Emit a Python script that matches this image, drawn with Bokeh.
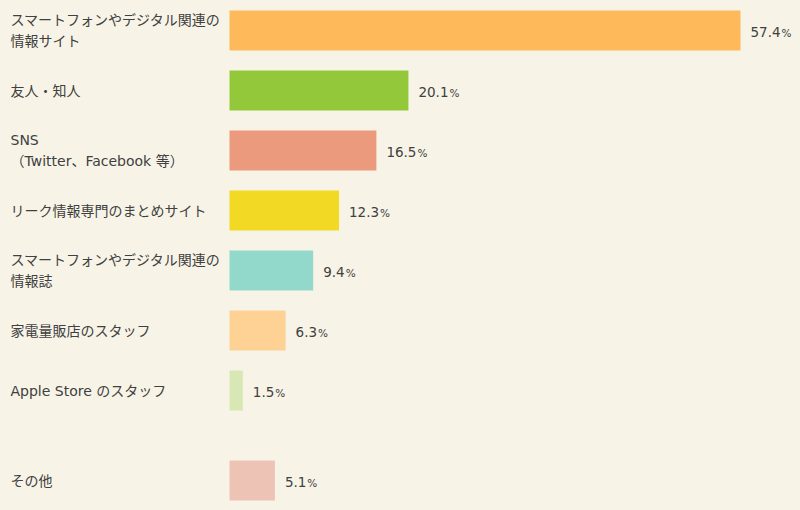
from bokeh.plotting import figure
from bokeh.models import Range1d, ColumnDataSource, LabelSet
from bokeh.core.properties import value
from bokeh.embed import file_html
from bokeh.resources import INLINE

categories = [
    "スマートフォンやデジタル関連の\n情報サイト",
    "友人・知人",
    "SNS\n（Twitter、Facebook 等）",
    "リーク情報専門のまとめサイト",
    "スマートフォンやデジタル関連の\n情報誌",
    "家電量販店のスタッフ",
    "Apple Store のスタッフ",
    "その他",
]
values = [57.4, 20.1, 16.5, 12.3, 9.4, 6.3, 1.5, 5.1]
slots = [0, 1, 2, 3, 4, 5, 6, 7.5]
colors = ["#FDB95A", "#93C83A", "#EC9A7E", "#F2DA24", "#93D9CB", "#FED194", "#D8E8B4", "#EDC3B6"]

BG = "#F7F4E7"
W, H = 800, 510
px_per_unit = 511 / 57.4
x0_px = 229
x_start = -x0_px / px_per_unit
x_end = (W - x0_px) / px_per_unit
slot_px = 60
first_center_px = 30
y_top = -first_center_px / slot_px
y_bottom = (H - first_center_px) / slot_px

num_labels = [f"{v:.1f}" for v in values]
NUM_SIZE = 13.5


def text_width(s, size=NUM_SIZE):
    w = 0
    for ch in s:
        w += 0.318 * size if ch == "." else 0.636 * size
    return w


pct_offsets = [10 + text_width(s) + 1 for s in num_labels]

src = ColumnDataSource(dict(
    cat=categories, val=values, slot=slots, color=colors,
    num=num_labels, pct=["%"] * len(values), pct_off=pct_offsets,
))

p = figure(width=W, height=H, output_backend="svg", toolbar_location=None,
           x_range=Range1d(x_start, x_end), y_range=Range1d(y_bottom, y_top),
           x_axis_location=None, y_axis_location=None, min_border=0,
           background_fill_color=BG, border_fill_color=BG, outline_line_color=None)
p.xgrid.visible = False
p.ygrid.visible = False

p.hbar(y="slot", left=0, right="val", height=40 / slot_px, fill_color="color",
       line_color=None, source=src)

labels = LabelSet(x=10, y="slot", x_units="screen", text="cat", source=src,
                  text_font=value("DejaVu Sans, Noto Sans CJK JP"), text_font_size="14px",
                  text_color="#404040", text_baseline="middle", text_align="left",
                  text_line_height=1.3)
p.add_layout(labels)

p.text(x="val", y="slot", text="num", x_offset=10, y_offset=1, source=src,
       text_font=value("DejaVu Sans"), text_font_size=f"{NUM_SIZE}px", text_color="#404040",
       text_baseline="middle", text_align="left")
p.text(x="val", y="slot", text="pct", x_offset="pct_off", y_offset=2.5, source=src,
       text_font=value("DejaVu Sans"), text_font_size="10.5px", text_color="#404040",
       text_baseline="middle", text_align="left")

html = file_html(p, INLINE)
html = html.replace("</head>", "<style>html,body{background:%s;margin:0;}</style></head>" % BG, 1)
open("out.html", "w").write(html)
